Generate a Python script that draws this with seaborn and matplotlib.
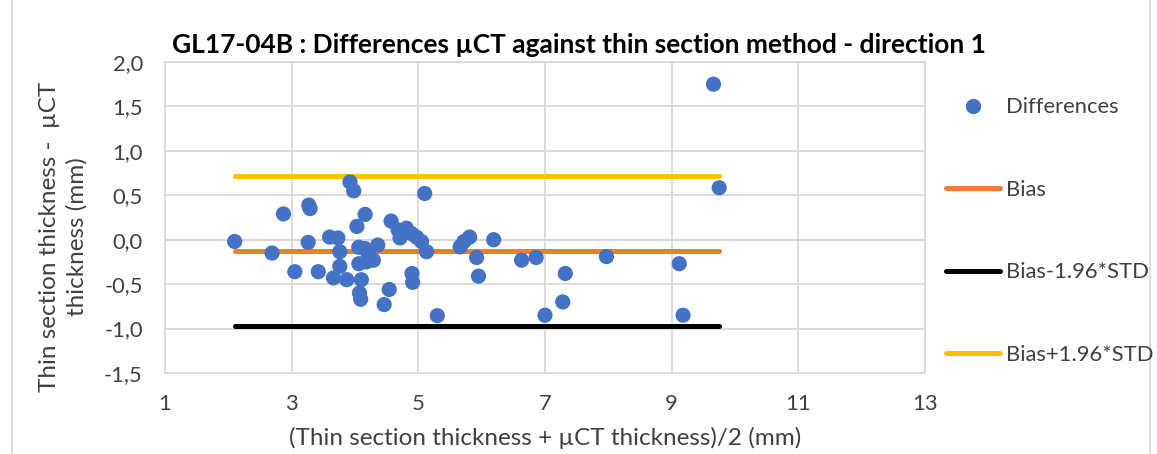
import matplotlib
matplotlib.use("Agg")
import matplotlib.pyplot as plt
import seaborn as sns
import pandas as pd
from matplotlib.patches import Rectangle
from matplotlib.lines import Line2D

sns.set_theme(style="white")
plt.rcParams['font.family'] = ['Lato', 'DejaVu Sans']

# Data
mean_thickness = [2.10, 2.69, 2.87, 3.27, 3.29, 3.26, 3.05, 3.42, 3.60, 3.73,
                  3.76, 3.76, 3.66, 3.87, 3.92, 3.98, 4.03, 4.16, 4.06, 4.16,
                  4.06, 4.18, 4.29, 4.21, 4.10, 4.07, 4.09, 4.36, 4.54, 4.46,
                  4.57, 4.68, 4.71, 4.81, 4.89, 4.97, 5.05, 5.13, 5.10, 4.90,
                  4.91, 5.30, 5.66, 5.72, 5.81, 6.19, 5.92, 5.95, 6.63, 6.86,
                  7.97, 7.32, 7.28, 7.00, 9.12, 9.18, 9.66, 9.75]
differences = [-0.02, -0.15, 0.29, 0.39, 0.35, -0.03, -0.36, -0.36, 0.03, 0.02,
               -0.135, -0.30, -0.43, -0.45, 0.65, 0.55, 0.15, 0.285, -0.085, -0.10,
               -0.27, -0.25, -0.23, -0.17, -0.45, -0.60, -0.67, -0.06, -0.56, -0.73,
               0.21, 0.11, 0.02, 0.13, 0.07, 0.03, -0.02, -0.135, 0.52, -0.38,
               -0.48, -0.855, -0.08, -0.02, 0.03, 0.0, -0.20, -0.41, -0.23, -0.20,
               -0.19, -0.38, -0.70, -0.85, -0.27, -0.85, 1.75, 0.585]
bias = -0.124
lower_limit = -0.968
upper_limit = 0.72

x_ticks = [1, 3, 5, 7, 9, 11, 13]
y_ticks = [2.0, 1.5, 1.0, 0.5, 0.0, -0.5, -1.0, -1.5]
y_tick_labels = ["2,0", "1,5", "1,0", "0,5", "0,0", "-0,5", "-1,0", "-1,5"]

W, H = 1157, 454
fig = plt.figure(figsize=(W / 100, H / 100), dpi=100)
ax = fig.add_axes([165 / W, 1 - 373 / H, (925 - 165) / W, (373 - 62) / H])

pts = pd.DataFrame({"x": mean_thickness, "y": differences})
xr = [min(mean_thickness), max(mean_thickness)]
lines = pd.DataFrame({
    "x": xr * 3,
    "y": [bias] * 2 + [lower_limit] * 2 + [upper_limit] * 2,
    "s": ["Bias"] * 2 + ["Bias-1.96*STD"] * 2 + ["Bias+1.96*STD"] * 2,
})

# grid
ax.set_axisbelow(True)
ax.grid(True, color="#D9D9D9", linewidth=1.3)
ax.axhline(0, color="#BFBFBF", linewidth=1.5, zorder=0.5)

sns.lineplot(data=lines, x="x", y="y", hue="s",
             palette={"Bias": "#ED7D31", "Bias-1.96*STD": "#000000", "Bias+1.96*STD": "#FFC000"},
             linewidth=3.6, ax=ax, legend=False, zorder=2, solid_capstyle="round")
sns.scatterplot(data=pts, x="x", y="y", color="#4472C4", s=120, edgecolor="none",
                ax=ax, zorder=3, legend=False)

ax.set_xlim(1, 13)
ax.set_ylim(-1.5, 2.0)
ax.set_xticks(x_ticks)
ax.set_xticklabels([str(t) for t in x_ticks])
ax.set_yticks(y_ticks)
ax.set_yticklabels(y_tick_labels)
ax.tick_params(axis="both", length=0, labelsize=15.8, colors="#404040")
ax.tick_params(axis="y", pad=16)
ax.tick_params(axis="x", pad=15)
for s in ax.spines.values():
    s.set_color("#D9D9D9")
    s.set_linewidth(1.3)

ax.set_xlabel("(Thin section thickness + µCT thickness)/2 (mm)", fontsize=17.5, color="#404040")
ax.set_ylabel("Thin section thickness -  µCT\nthickness (mm)", fontsize=17.5, color="#404040",
              linespacing=1.35)
ax.xaxis.set_label_coords(0.5, -(438 - 373) / (373 - 62), transform=ax.transAxes)
ax.yaxis.set_label_coords(-(165 - 63) / (925 - 165), (373 - 237) / (373 - 62))
ax.xaxis.label.set_verticalalignment("center")
ax.yaxis.label.set_verticalalignment("center")

fig.text(0.5, 1 - 45 / H, "GL17-04B : Differences µCT against thin section method - direction 1",
         ha="center", va="center", fontsize=19, fontweight="bold", color="#000000")

# legend
handles = [
    Line2D([], [], linestyle="none", marker="o", markersize=11, color="#4472C4", markeredgewidth=0),
    Line2D([], [], color="#ED7D31", linewidth=3.6, solid_capstyle="round"),
    Line2D([], [], color="#000000", linewidth=3.6, solid_capstyle="round"),
    Line2D([], [], color="#FFC000", linewidth=3.6, solid_capstyle="round"),
]
labels = ["Differences", "Bias", "Bias-1.96*STD", "Bias+1.96*STD"]
fs = 15.8
fpx = fs * 100 / 72
fig.legend(handles, labels, loc="center left", bbox_to_anchor=(946 / W, 1 - 231 / H),
           frameon=False, fontsize=fs, borderpad=0, borderaxespad=0,
           handlelength=54 / fpx, handletextpad=6 / fpx, labelspacing=2.85,
           labelcolor="#404040")

# chart border
fig.patches.append(Rectangle((12 / W, -0.05), (1150 - 12) / W, 1.2, transform=fig.transFigure,
                             fill=False, edgecolor="#D9D9D9", linewidth=1.3))

fig.savefig("out.png", dpi=100)
